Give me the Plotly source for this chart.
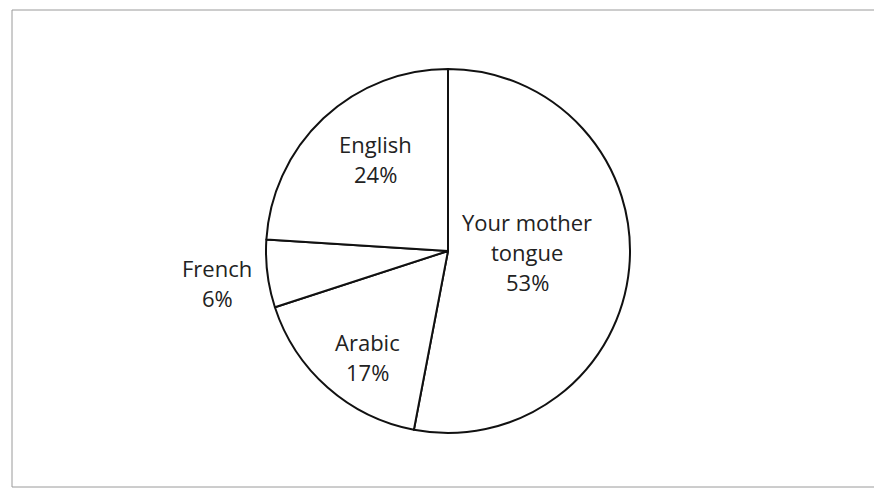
import math
import plotly.graph_objects as go

# Share of each language
labels = ["Your mother tongue", "Arabic", "French", "English"]
values = [53, 17, 6, 24]
label_lines = [["Your mother", "tongue", "53%"], ["Arabic", "17%"], ["French", "6%"], ["English", "24%"]]

W, H = 874, 488
CX, CY, R = 448, 251, 182  # pie centre and radius in pixels

# label placement: radial fraction of the radius and angular nudge (deg)
label_radius = [0.435, 0.73, 1.28, 0.64]
label_nudge = [-5, -4, -0.7, 5]
LINE_GAP = 30
FONT = dict(family="Open Sans, Calibri, sans-serif", size=22, color="#222222")

fig = go.Figure(go.Pie(
    labels=labels,
    values=values,
    sort=False,
    direction="clockwise",
    rotation=0,
    marker=dict(colors=["white"] * len(values), line=dict(color="#111111", width=2)),
    textinfo="none",
    hoverinfo="label+percent",
    domain=dict(x=[(CX - R) / W, (CX + R) / W], y=[1 - (CY + R) / H, 1 - (CY - R) / H]),
))

total = sum(values)
annotations = []
cum = 0
for lines, v, rf, nudge in zip(label_lines, values, label_radius, label_nudge):
    mid = (cum + v / 2) / total * 360 + nudge
    cum += v
    px = CX + rf * R * math.sin(math.radians(mid))
    py = CY - rf * R * math.cos(math.radians(mid))
    n = len(lines)
    for i, t in enumerate(lines):
        ly = py + (i - (n - 1) / 2) * LINE_GAP
        annotations.append(dict(
            x=px / W, y=1 - ly / H, xref="paper", yref="paper",
            text=t, showarrow=False, font=FONT, xanchor="center", yanchor="middle",
        ))

fig.update_layout(
    width=W, height=H,
    margin=dict(l=0, r=0, t=0, b=0),
    paper_bgcolor="white",
    showlegend=False,
    annotations=annotations,
    shapes=[dict(type="rect", xref="paper", yref="paper",
                 x0=12 / W, x1=1.01, y0=1 - 487 / H, y1=1 - 10 / H,
                 line=dict(color="#9a9a9a", width=1))],
)

fig.write_html("out.html")
